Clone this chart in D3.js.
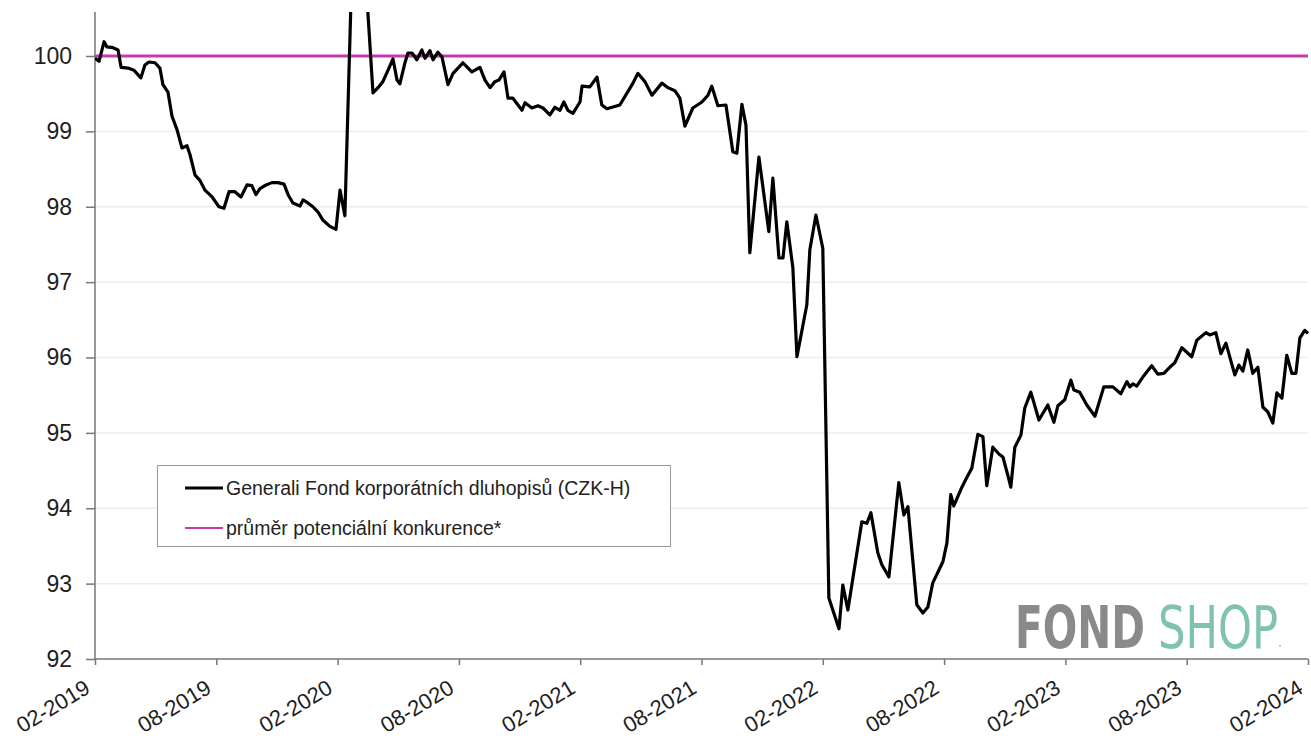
<!DOCTYPE html>
<html>
<head>
<meta charset="utf-8">
<script src="https://cdn.jsdelivr.net/npm/d3@7"></script>
<style>
  html, body { margin: 0; padding: 0; background: #fff; }
  svg { display: block; }
  text { font-family: "Liberation Sans", Arial, sans-serif; }
</style>
</head>
<body>
<svg id="chart" width="1311" height="745"></svg>
<script>
// months since 02-2019
const monthOffset = [
  0.00, 0.20, 0.45, 0.59, 0.89, 1.14, 1.29, 1.63, 1.93, 2.27, 2.47, 2.67, 2.97, 3.21, 3.36, 3.61, 3.81, 4.06, 4.30, 4.55,
  4.70, 4.95, 5.19, 5.44, 5.79, 6.13, 6.38, 6.63, 6.92, 7.22, 7.52, 7.76, 7.96, 8.16, 8.46, 8.75, 9.05, 9.35, 9.55, 9.79,
  10.14, 10.29, 10.53, 10.78, 11.03, 11.28, 11.62, 11.92, 12.12, 12.36, 12.91, 13.75, 14.00, 14.24, 14.49, 14.74, 14.94, 15.08, 15.33, 15.48,
  15.68, 15.92, 16.17, 16.32, 16.57, 16.72, 16.96, 17.16, 17.46, 17.71, 18.20, 18.64, 19.04, 19.29, 19.54, 19.78, 19.98, 20.23, 20.43, 20.67,
  21.12, 21.27, 21.61, 21.91, 22.16, 22.50, 22.75, 23.00, 23.19, 23.39, 23.64, 23.99, 24.09, 24.48, 24.83, 25.07, 25.32, 25.96, 26.61, 26.85,
  27.20, 27.55, 28.04, 28.34, 28.68, 28.93, 29.18, 29.57, 30.02, 30.32, 30.51, 30.81, 31.21, 31.55, 31.75, 32.00, 32.20, 32.39, 32.84, 33.33,
  33.53, 33.83, 34.03, 34.22, 34.52, 34.72, 35.21, 35.36, 35.66, 36.00, 36.30, 36.80, 36.99, 37.24, 37.93, 38.18, 38.38, 38.72, 38.92, 39.27,
  39.76, 40.01, 40.21, 40.65, 40.95, 41.20, 41.44, 41.94, 42.14, 42.33, 42.48, 42.88, 43.13, 43.37, 43.67, 43.92, 44.11, 44.41, 44.71, 44.91,
  45.15, 45.30, 45.50, 45.80, 45.99, 46.29, 46.69, 47.13, 47.43, 47.63, 47.97, 48.27, 48.42, 48.71, 49.06, 49.46, 49.90, 50.35, 50.74, 51.04,
  51.19, 51.34, 51.53, 51.83, 52.27, 52.57, 52.87, 53.16, 53.41, 53.76, 54.25, 54.50, 54.95, 55.14, 55.44, 55.69, 55.94, 56.38, 56.58, 56.78,
  57.02, 57.27, 57.52, 57.77, 58.01, 58.26, 58.46, 58.71, 58.95, 59.20, 59.40, 59.60, 59.84, 60.00
];
const fundValues = [
  99.97, 99.93, 100.19, 100.12, 100.11, 100.08, 99.85, 99.84, 99.81, 99.71, 99.88, 99.92, 99.91, 99.84, 99.62, 99.52, 99.20, 99.02, 98.78, 98.81,
  98.69, 98.42, 98.35, 98.22, 98.13, 98.00, 97.98, 98.20, 98.20, 98.13, 98.29, 98.28, 98.16, 98.24, 98.29, 98.32, 98.32, 98.30, 98.16, 98.05,
  98.01, 98.09, 98.05, 98.00, 97.93, 97.82, 97.74, 97.70, 98.22, 97.88, 103.06, 99.51, 99.58, 99.66, 99.81, 99.96, 99.68, 99.63, 99.91, 100.04,
  100.04, 99.95, 100.08, 99.97, 100.07, 99.95, 100.05, 99.99, 99.62, 99.77, 99.91, 99.79, 99.85, 99.68, 99.58, 99.66, 99.68, 99.79, 99.44, 99.44,
  99.28, 99.38, 99.31, 99.34, 99.31, 99.22, 99.32, 99.28, 99.39, 99.28, 99.24, 99.39, 99.60, 99.59, 99.72, 99.35, 99.30, 99.35, 99.64, 99.77,
  99.66, 99.48, 99.64, 99.58, 99.54, 99.44, 99.07, 99.31, 99.39, 99.48, 99.60, 99.34, 99.35, 98.73, 98.71, 99.36, 99.08, 97.39, 98.66, 97.67,
  98.38, 97.32, 97.32, 97.80, 97.19, 96.01, 96.70, 97.43, 97.89, 97.45, 92.81, 92.40, 92.98, 92.65, 93.82, 93.80, 93.94, 93.41, 93.25, 93.09,
  94.34, 93.91, 94.02, 92.72, 92.61, 92.69, 93.01, 93.29, 93.54, 94.18, 94.03, 94.28, 94.41, 94.53, 94.98, 94.95, 94.30, 94.81, 94.72, 94.68,
  94.44, 94.28, 94.81, 94.97, 95.33, 95.54, 95.17, 95.37, 95.14, 95.36, 95.44, 95.70, 95.57, 95.54, 95.37, 95.22, 95.61, 95.61, 95.52, 95.68,
  95.61, 95.65, 95.62, 95.74, 95.89, 95.78, 95.79, 95.87, 95.93, 96.13, 96.01, 96.23, 96.33, 96.30, 96.33, 96.05, 96.19, 95.77, 95.90, 95.82,
  96.10, 95.79, 95.87, 95.34, 95.28, 95.13, 95.53, 95.46, 96.03, 95.79, 95.79, 96.26, 96.36, 96.32
];
const competitorAverage = 100;
const xTickMonths = [0, 6, 12, 18, 24, 30, 36, 42, 48, 54, 60];
const xTickLabels = ["02-2019", "08-2019", "02-2020", "08-2020", "02-2021", "08-2021", "02-2022", "08-2022", "02-2023", "08-2023", "02-2024"];
const yTicks = [92, 93, 94, 95, 96, 97, 98, 99, 100];
const seriesNames = ["Generali Fond korporátních dluhopisů (CZK-H)", "průměr potenciální konkurence*"];
const seriesColors = ["#000000", "#c43bb0"];

(function () {
  const svg = d3.select("#chart");
  const pL = 95, pR = 1308, pT = 12, pB = 659;

  const x = d3.scaleLinear().domain([0, 60]).range([pL, pR]);
  // 92 at bottom, 100 at y=56
  const y = d3.scaleLinear().domain([92, 92 + 8 * (pB - pT) / (pB - 56)]).range([pB, pT]);

  // grid
  svg.append("g").selectAll("line").data(yTicks.filter(d => d !== 92)).join("line")
    .attr("x1", pL).attr("x2", pR)
    .attr("y1", d => y(d)).attr("y2", d => y(d))
    .attr("stroke", "#ececec").attr("stroke-width", 1.5);

  // y axis
  const yAxis = svg.append("g").attr("transform", `translate(${pL},0)`)
    .call(d3.axisLeft(y).tickValues(yTicks).tickSize(9).tickPadding(14).tickFormat(d3.format("d")));
  yAxis.select(".domain").attr("stroke", "#777").attr("stroke-width", 1.5).attr("d", `M0,${pT}V${pB}`);
  yAxis.selectAll(".tick line").attr("stroke", "#777").attr("stroke-width", 1.5);
  yAxis.selectAll(".tick text").attr("fill", "#1e1e1e").style("font-size", "23px");

  // x axis
  const xAxis = svg.append("g").attr("transform", `translate(0,${pB})`)
    .call(d3.axisBottom(x).tickValues(xTickMonths).tickSize(6).tickPadding(6)
      .tickFormat((d, i) => xTickLabels[i]));
  xAxis.select(".domain").attr("stroke", "#777").attr("stroke-width", 1.5).attr("d", `M${pL},0H${pR}`);
  xAxis.selectAll(".tick line").attr("stroke", "#777").attr("stroke-width", 1.5);
  xAxis.selectAll(".tick text")
    .attr("fill", "#1e1e1e").style("font-size", "22px")
    .attr("text-anchor", "end")
    .attr("x", 0).attr("y", 0).attr("dy", "0")
    .attr("transform", "translate(-4,33) rotate(-31)");

  // clip
  svg.append("clipPath").attr("id", "clip").append("rect")
    .attr("x", pL).attr("y", pT).attr("width", pR - pL + 2).attr("height", pB - pT);

  // competitor average line
  svg.append("line")
    .attr("x1", x(0)).attr("x2", x(60))
    .attr("y1", y(competitorAverage)).attr("y2", y(competitorAverage))
    .attr("stroke", seriesColors[1]).attr("stroke-width", 3);

  // fund line
  const data = monthOffset.map((m, i) => ({ m, v: fundValues[i] }));
  svg.append("path").datum(data)
    .attr("clip-path", "url(#clip)")
    .attr("fill", "none").attr("stroke", seriesColors[0]).attr("stroke-width", 3.2)
    .attr("stroke-linejoin", "round")
    .attr("d", d3.line().x(d => x(d.m)).y(d => y(d.v)));

  // legend
  const lg = svg.append("g");
  lg.append("rect").attr("x", 157.5).attr("y", 465.5).attr("width", 513).attr("height", 81)
    .attr("fill", "#fff").attr("stroke", "#999").attr("stroke-width", 1);
  seriesNames.forEach((name, i) => {
    const yy = 488 + i * 40;
    lg.append("line").attr("x1", 185).attr("x2", 223).attr("y1", yy).attr("y2", yy)
      .attr("stroke", seriesColors[i]).attr("stroke-width", i === 0 ? 3 : 2);
    lg.append("text").attr("x", 226).attr("y", yy).attr("dy", "0.35em")
      .attr("fill", "#222").style("font-size", "19.5px").text(name);
  });

  // watermark (each word scaled horizontally to its width in the reference)
  function word(txt, x0, width, weight, color) {
    const t = svg.append("text")
      .style("font-family", "'Liberation Sans Narrow', 'DejaVu Sans Condensed', sans-serif")
      .style("font-size", "58px").style("font-weight", weight)
      .attr("fill", color).text(txt);
    const w = t.node().getComputedTextLength();
    t.attr("transform", `translate(${x0},648) scale(${width / w},1)`);
  }
  word("FOND", 1015, 130, "bold", "#8a8a8a");
  word("SHOP", 1158, 120, "normal", "#7fc2ad");
  svg.append("circle").attr("cx", 1280).attr("cy", 646).attr("r", 1).attr("fill", "#bbb");
})();
</script>
</body>
</html>
